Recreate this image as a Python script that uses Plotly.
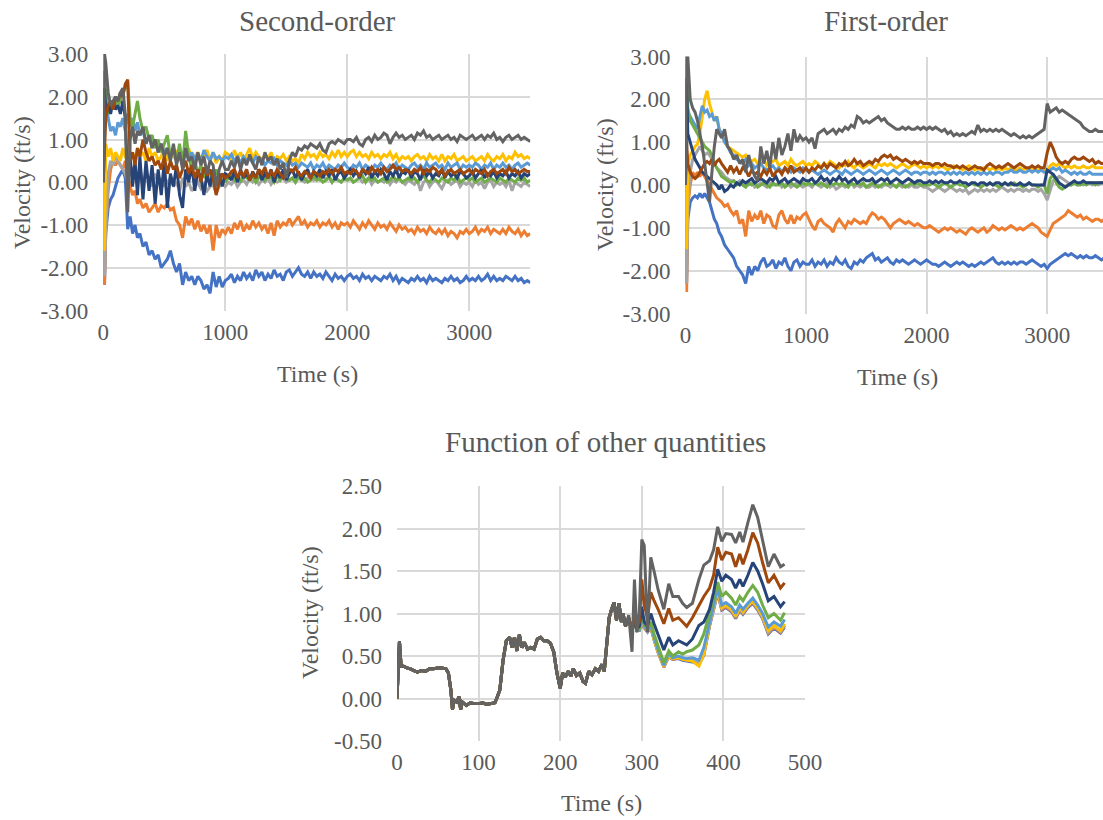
import plotly.graph_objects as go

# ---------------- time grids ----------------
T_TOP = [0, 10, 20] + list(range(40, 301, 20)) + list(range(325, 3501, 25))

SERIES_COLORS = ["#4472C4", "#ED7D31", "#A5A5A5", "#FFC000", "#5B9BD5",
                 "#70AD47", "#264478", "#9E480E", "#636363"]

# tick labels
Y_TOP_TICKS = [-3, -2, -1, 0, 1, 2, 3]
Y_TOP_TEXT = ["-3.00", "-2.00", "-1.00", "0.00", "1.00", "2.00", "3.00"]
Y_BOT_TICKS = [-0.5, 0, 0.5, 1, 1.5, 2, 2.5]
Y_BOT_TEXT = ["-0.50", "0.00", "0.50", "1.00", "1.50", "2.00", "2.50"]

# ---------------- Second-order (velocity, ft/s) ----------------
so_blue = [0, -2.4, -1.2, -0.6, -0.4, -0.3, -0.1, 0.1, 0.2, 0.3,
           0.1, -1.1, -0.8, -1.2, -1.0, -1.3, -1.2, -1.5, -1.4, -1.7,
           -1.6, -1.8, -1.7, -2.0, -1.9, -1.8, -1.6, -1.9, -2.1, -1.9,
           -2.4, -2.1, -2.3, -2.2, -2.4, -2.2, -2.3, -2.5, -2.4, -2.6,
           -2.1, -2.45, -2.2, -2.45, -2.3,
           -2.25, -2.15, -2.35, -2.2, -2.3, -2.1, -2.25, -2.15, -2.3, -2.05,
           -2.2, -2.1, -2.3, -2.15, -2.25, -2.05, -2.2, -2.15, -2.3, -2.1,
           -2.05, -2.2, -2.1, -2.0, -2.15, -2.2, -2.1, -2.25, -2.1, -2.2,
           -2.15, -2.25, -2.1, -2.2, -2.3, -2.15, -2.25, -2.2, -2.3, -2.2,
           -2.15, -2.25, -2.2, -2.3, -2.15, -2.25, -2.2, -2.3, -2.2, -2.25,
           -2.3, -2.2, -2.25, -2.15, -2.3, -2.2, -2.35, -2.25, -2.3, -2.35,
           -2.25, -2.3, -2.2, -2.3, -2.25, -2.35, -2.2, -2.3, -2.25, -2.3,
           -2.35, -2.25, -2.3, -2.2, -2.3, -2.25, -2.35, -2.3, -2.2, -2.3,
           -2.25, -2.3, -2.2, -2.3, -2.25, -2.15, -2.3, -2.2, -2.3, -2.25,
           -2.3, -2.2, -2.25, -2.3, -2.2, -2.3, -2.25, -2.35, -2.3, -2.35]
so_orange = [0, -2.4, -1.0, -0.2, 0.3, 0.5, 0.4, 0.5, 0.4, 0.3,
             0.5, 0.2, -0.1, -0.3, -0.2, -0.5, -0.4, -0.6, -0.5, -0.7,
             -0.6, -0.5, -0.7, -0.55, -0.6, -0.5, -0.65, -0.6, -0.9, -1.0,
             -1.3, -0.8, -1.0, -0.85, -1.1, -0.9, -1.15, -1.0, -1.2, -1.0,
             -1.6, -1.0, -1.3, -1.1, -1.2,
             -1.05, -1.2, -0.95, -1.1, -0.9, -1.15, -1.0, -1.1, -0.9, -1.05,
             -0.95, -1.1, -1.0, -1.2, -0.95, -1.25, -0.9, -1.05, -0.95, -1.0,
             -0.85, -1.0, -0.9, -0.8, -1.0, -0.9, -1.05, -0.95, -1.0, -0.9,
             -1.05, -0.95, -1.0, -0.9, -1.05, -0.95, -1.1, -0.95, -1.0, -0.95,
             -1.05, -0.9, -1.0, -1.1, -0.95, -1.05, -0.9, -1.0, -1.1, -0.95,
             -1.05, -1.0, -1.1, -0.95, -1.05, -1.15, -1.0, -1.1, -1.05, -1.15,
             -1.1, -1.2, -1.05, -1.15, -1.1, -1.2, -1.05, -1.15, -1.2, -1.1,
             -1.2, -1.1, -1.25, -1.15, -1.2, -1.3, -1.15, -1.2, -1.1, -1.2,
             -1.15, -1.05, -1.2, -1.1, -1.15, -1.05, -1.2, -1.1, -1.15, -1.2,
             -1.1, -1.2, -1.05, -1.15, -1.2, -1.1, -1.25, -1.15, -1.25, -1.2]
so_gray = [0, -2.2, -1.2, 0.2, 0.5, 0.4, 0.6, 0.5, 0.4, 0.3,
           0.2, 0.0, 0.4, 0.3, 0.2, 0.1, 0.3, 0.0, 0.2, 0.1,
           -0.1, 0.2, 0.0, 0.1, -0.1, 0.0, 0.1, -0.1, 0.0, -0.2,
           0.1, -0.1, 0.0, -0.2, -0.1, 0.0, -0.15, -0.05, -0.2, -0.1,
           -0.05, -0.25, -0.1, 0.0, -0.1,
           0.0, -0.05, 0.05, -0.1, 0.0, 0.05, -0.05, 0.1, 0.0, 0.05,
           -0.05, 0.05, 0.0, 0.1, -0.05, 0.05, 0.0, 0.05, 0.1, 0.0,
           0.05, 0.1, 0.0, 0.1, 0.05, 0.0, 0.1, 0.15, 0.05, 0.1,
           0.05, 0.15, 0.05, 0.1, 0.0, 0.1, 0.05, 0.0, 0.1, 0.05,
           0.1, 0.0, 0.05, 0.1, 0.0, 0.05, 0.1, -0.05, 0.05, 0.0,
           0.05, 0.0, 0.1, -0.05, 0.05, 0.0, 0.1, 0.0, -0.05, 0.05,
           0.0, -0.05, 0.05, -0.2, 0.0, 0.05, -0.1, 0.0, 0.05, -0.05,
           -0.15, 0.0, 0.05, -0.05, 0.0, 0.05, -0.1, 0.0, -0.05, 0.0,
           -0.1, 0.05, -0.05, 0.0, -0.15, 0.0, 0.05, -0.1, 0.0, -0.05,
           0.0, -0.1, 0.05, -0.2, 0.0, -0.05, -0.1, 0.0, -0.05, -0.1]
so_gold = [0, -1.6, 0.9, 0.6, 0.8, 0.5, 0.7, 0.6, 0.5, 0.8,
           0.6, 0.5, 0.6, 0.7, 0.5, 0.8, 0.6, 0.7, 0.5, 0.8,
           0.6, 0.7, 0.5, 0.6, 0.8, 0.5, 0.7, 0.6, 0.75, 0.5,
           0.7, 0.6, 0.8, 0.5, 0.6, 0.7, 0.5, 0.65, 0.75, 0.5,
           0.7, 0.45, 0.6, 0.5, 0.7,
           0.65, 0.5, 0.75, 0.55, 0.7, 0.5, 0.65, 0.8, 0.55, 0.7,
           0.6, 0.5, 0.65, 0.55, 0.7, 0.5, 0.6, 0.55, 0.65, 0.5,
           0.6, 0.5, 0.55, 0.45, 0.65, 0.55, 0.7, 0.6, 0.65, 0.55,
           0.7, 0.6, 0.65, 0.55, 0.7, 0.6, 0.75, 0.6, 0.7, 0.6,
           0.7, 0.75, 0.6, 0.7, 0.6, 0.65, 0.55, 0.7, 0.6, 0.65,
           0.55, 0.65, 0.6, 0.7, 0.55, 0.65, 0.5, 0.6, 0.55, 0.6,
           0.5, 0.6, 0.65, 0.55, 0.6, 0.5, 0.65, 0.55, 0.6, 0.5,
           0.65, 0.5, 0.6, 0.55, 0.65, 0.5, 0.55, 0.6, 0.5, 0.55,
           0.6, 0.5, 0.55, 0.6, 0.5, 0.65, 0.55, 0.5, 0.6, 0.55,
           0.65, 0.5, 0.6, 0.55, 0.7, 0.6, 0.65, 0.55, 0.6, 0.55]
so_lightblue = [0, 1.0, 2.0, 1.5, 1.2, 1.3, 1.1, 1.4, 1.3, 1.5,
                1.2, 1.6, 1.3, 1.5, 1.2, 1.4, 1.1, 1.2, 0.9, 1.1,
                0.8, 1.0, 0.7, 0.9, 0.7, 0.8, 0.6, 0.8, 0.5, 0.7,
                0.6, 0.8, 0.5, 0.7, 0.55, 0.65, 0.5, 0.75, 0.6, 0.5,
                0.7, 0.55, 0.6, 0.5, 0.6,
                0.55, 0.65, 0.5, 0.6, 0.45, 0.6, 0.5, 0.55, 0.45, 0.6,
                0.5, 0.55, 0.4, 0.5, 0.45, 0.55, 0.4, 0.5, 0.45, 0.4,
                0.5, 0.4, 0.45, 0.35, 0.45, 0.4, 0.35, 0.45, 0.3, 0.4,
                0.35, 0.45, 0.3, 0.4, 0.35, 0.3, 0.4, 0.35, 0.45, 0.35,
                0.3, 0.4, 0.35, 0.45, 0.3, 0.4, 0.35, 0.3, 0.4, 0.35,
                0.45, 0.35, 0.3, 0.4, 0.35, 0.45, 0.3, 0.4, 0.35, 0.3,
                0.4, 0.45, 0.35, 0.4, 0.3, 0.45, 0.35, 0.4, 0.45, 0.35,
                0.4, 0.3, 0.45, 0.35, 0.4, 0.45, 0.3, 0.4, 0.35, 0.4,
                0.35, 0.45, 0.4, 0.3, 0.4, 0.35, 0.45, 0.3, 0.4, 0.35,
                0.45, 0.35, 0.4, 0.3, 0.4, 0.45, 0.35, 0.4, 0.45, 0.4]
so_green = [0, 2.6, 2.2, 1.6, 1.9, 1.7, 2.0, 1.8, 1.9, 2.1,
            2.2, 2.35, 1.5, 1.3, 1.6, 1.9, 1.5, 1.2, 1.3, 1.0,
            1.1, 0.8, 1.0, 0.7, 0.9, 1.1, 0.6, 0.8, 0.5, 0.9,
            0.4, 1.2, 0.6, 0.3, 0.5, 0.2, 0.4, 0.1, 0.3, 0.2,
            0.0, 0.3, 0.1, 0.2, 0.0,
            0.1, 0.2, 0.05, 0.15, 0.0, 0.2, 0.1, 0.05, 0.15, 0.0,
            0.1, 0.2, 0.05, 0.15, 0.1, 0.0, 0.15, 0.05, 0.2, 0.1,
            0.05, 0.1, 0.0, 0.15, 0.05, 0.1, 0.0, 0.05, 0.15, 0.05,
            0.1, 0.0, 0.05, 0.15, 0.0, 0.1, 0.05, 0.0, 0.1, 0.05,
            0.1, 0.0, 0.05, 0.1, 0.15, 0.0, 0.1, 0.05, 0.1, 0.0,
            0.05, 0.1, 0.0, 0.05, 0.15, 0.05, 0.1, 0.0, 0.05, 0.1,
            0.05, 0.1, 0.0, 0.1, 0.15, 0.05, 0.0, 0.1, 0.05, 0.0,
            0.1, 0.05, 0.0, 0.1, 0.05, 0.15, 0.0, 0.05, 0.1, 0.05,
            0.1, 0.0, 0.05, 0.1, 0.0, 0.05, 0.1, 0.05, 0.0, 0.1,
            0.05, 0.0, 0.1, 0.05, 0.0, 0.1, 0.05, 0.1, 0.0, 0.05]
so_darkblue = [0, 2.2, 1.7, 1.8, 1.6, 1.9, 1.7, 1.8, 1.6, 1.9,
               1.5, 0.0, 0.6, -0.1, 0.5, -0.3, 0.6, -0.4, 0.5, -0.2,
               0.4, -0.5, 0.3, -0.3, 0.5, -0.6, 0.2, -0.1, 0.4, -0.3,
               -0.6, 0.3, 0.0, 0.4, -0.2, 0.3, 0.1, -0.3, 0.2, -0.1,
               0.3, 0.0, 0.2, -0.1, 0.2,
               0.15, 0.05, 0.25, 0.0, 0.3, 0.1, 0.2, 0.05, 0.25, 0.1,
               0.3, 0.05, 0.2, 0.1, 0.3, 0.0, 0.25, 0.1, 0.3, 0.05,
               0.2, 0.3, 0.1, 0.25, 0.05, 0.2, 0.3, 0.1, 0.25, 0.15,
               0.3, 0.1, 0.25, 0.15, 0.3, 0.05, 0.2, 0.25, 0.1, 0.2,
               0.3, 0.15, 0.25, 0.1, 0.3, 0.2, 0.35, 0.1, 0.25, 0.15,
               0.3, 0.2, 0.05, 0.25, 0.15, 0.3, 0.1, 0.25, 0.2, 0.3,
               0.1, 0.25, 0.2, 0.05, 0.3, 0.15, 0.25, 0.1, 0.2, 0.15,
               0.3, 0.1, 0.25, 0.15, 0.2, 0.1, 0.25, 0.2, 0.1, 0.15,
               0.25, 0.1, 0.2, 0.3, 0.1, 0.2, 0.15, 0.25, 0.1, 0.2,
               0.15, 0.25, 0.1, 0.2, 0.15, 0.25, 0.1, 0.2, 0.15, 0.2]
so_brown = [0, 1.0, 1.5, 1.8, 1.9, 1.7, 2.0, 1.9, 2.1, 2.0,
            2.3, 2.4, 0.5, 0.7, 0.4, 0.8, 0.6, 1.0, 0.7, 0.5,
            0.6, 0.4, 0.5, 0.3, 0.6, 0.2, 0.5, 0.3, 0.4, 0.1,
            0.3, 0.5, 0.2, 0.4, 0.1, 0.3, 0.0, 0.35, 0.15, 0.3,
            0.1, -0.3, 0.0, 0.2, 0.1,
            0.15, 0.25, 0.3, 0.1, 0.25, 0.15, 0.3, 0.05, 0.2, 0.1,
            0.3, 0.2, 0.35, 0.1, 0.25, 0.15, 0.3, 0.2, 0.1, 0.2,
            0.3, 0.25, 0.35, 0.2, 0.15, 0.25, 0.2, 0.1, 0.25, 0.2,
            0.15, 0.25, 0.2, 0.3, 0.2, 0.3, 0.25, 0.35, 0.2, 0.25,
            0.2, 0.3, 0.25, 0.15, 0.3, 0.25, 0.2, 0.35, 0.25, 0.3,
            0.2, 0.35, 0.25, 0.3, 0.4, 0.3, 0.35, 0.25, 0.3, 0.25,
            0.2, 0.3, 0.25, 0.35, 0.2, 0.3, 0.25, 0.35, 0.3, 0.2,
            0.3, 0.15, 0.25, 0.3, 0.2, 0.25, 0.3, 0.2, 0.25, 0.3,
            0.2, 0.3, 0.25, 0.2, 0.3, 0.15, 0.25, 0.3, 0.2, 0.25,
            0.3, 0.2, 0.35, 0.25, 0.3, 0.2, 0.25, 0.3, 0.25, 0.25]
so_darkgray = [0, 3.0, 2.8, 2.1, 1.8, 1.9, 2.0, 1.9, 2.1, 2.2,
               1.6, -0.7, 1.0, 1.3, 0.9, 1.2, 1.1, 1.3, 0.9, 1.1,
               0.8, 1.0, 0.7, 0.9, 0.6, 0.8, 0.5, 0.9, 0.4, 0.7,
               0.3, 0.8, 0.5, 0.6, 0.3, 0.7, 0.4, 0.6, 0.2, 0.5,
               0.4, -0.1, 0.3, 0.5, 0.3,
               0.3, 0.5, 0.35, 0.6, 0.3, 0.55, 0.4, 0.65, 0.45, 0.3,
               0.6, 0.4, 0.7, 0.5, 0.6, 0.4, 0.55, 0.3, 0.45, 0.1,
               0.5, 0.7, 0.6, 0.8, 0.75, 0.85, 0.8, 0.9, 0.85, 0.8,
               0.9, 0.75, 0.7, 0.9, 0.95, 0.9, 1.0, 0.95, 0.9, 1.0,
               1.0, 0.95, 1.05, 0.9, 0.85, 1.0, 1.05, 0.95, 1.1, 1.0,
               1.05, 1.15, 1.1, 0.9, 1.05, 1.15, 1.05, 1.1, 1.0, 1.05,
               1.1, 1.0, 1.15, 1.1, 1.2, 1.05, 1.1, 1.0, 1.05, 1.1,
               1.0, 1.05, 1.1, 1.0, 1.05, 0.95, 1.1, 1.05, 1.0, 1.05,
               1.1, 1.0, 1.05, 1.1, 1.0, 1.1, 1.05, 1.15, 1.0, 1.05,
               0.95, 1.05, 1.1, 1.0, 1.05, 1.1, 1.0, 1.05, 1.0, 0.95]

# ---------------- First-order (velocity, ft/s) ----------------
fo_blue = [0, -2.3, -0.8, -0.4, -0.3, -0.25, -0.3, -0.2, -0.3, -0.2,
           -0.3, -0.4, -0.6, -0.8, -0.9, -1.1, -1.2, -1.4, -1.5, -1.6,
           -1.7, -1.9, -2.0, -2.1, -2.3, -1.9, -2.1, -1.9, -2.0, -1.8,
           -1.7, -1.9, -1.85, -1.75, -1.95, -1.8, -1.85, -1.7, -1.9, -2.0,
           -1.8, -1.75, -1.9, -1.8, -1.85,
           -1.85, -1.75, -1.9, -1.8, -1.85, -1.75, -1.9, -1.8, -1.85, -1.7,
           -1.8, -1.85, -1.75, -1.9, -1.95, -1.8, -1.85, -1.75, -1.8, -1.7,
           -1.65, -1.6, -1.75, -1.7, -1.8, -1.75, -1.7, -1.8, -1.85, -1.75,
           -1.8, -1.75, -1.8, -1.85, -1.8, -1.75, -1.8, -1.85, -1.8, -1.75,
           -1.8, -1.85, -1.85, -1.9, -1.85, -1.8, -1.85, -1.9, -1.85, -1.8,
           -1.85, -1.8, -1.85, -1.9, -1.85, -1.9, -1.85, -1.8, -1.85, -1.8,
           -1.75, -1.7, -1.8, -1.85, -1.8, -1.85, -1.8, -1.85, -1.8, -1.85,
           -1.8, -1.8, -1.85, -1.8, -1.75, -1.8, -1.85, -1.9, -1.85, -1.95,
           -1.85, -1.8, -1.75, -1.7, -1.65, -1.6, -1.65, -1.6, -1.65, -1.7,
           -1.65, -1.7, -1.65, -1.7, -1.7, -1.65, -1.7, -1.75, -1.7, -1.7]
fo_orange = [0, -2.5, -0.5, 0.0, 0.3, 0.2, 0.3, 0.2, 0.3, 0.2,
             0.1, 0.0, -0.1, -0.2, -0.3, -0.35, -0.4, -0.5, -0.45, -0.6,
             -0.7, -0.6, -0.9, -0.8, -1.2, -0.6, -0.85, -0.7, -0.8, -0.6,
             -0.9, -0.7, -0.75, -0.95, -1.0, -0.7, -0.6, -0.8, -0.9, -0.7,
             -0.9, -0.75, -0.8, -0.7, -0.65,
             -0.8, -0.95, -1.05, -0.85, -0.8, -0.9, -0.95, -1.0, -1.1, -0.9,
             -0.8, -0.9, -1.0, -0.85, -0.9, -0.8, -0.85, -0.9, -0.85, -0.9,
             -0.75, -0.65, -0.7, -0.8, -0.75, -0.8, -0.9, -1.0, -0.9, -0.85,
             -0.8, -0.85, -0.9, -0.85, -0.9, -0.95, -0.9, -0.95, -1.0, -1.0,
             -0.95, -1.0, -1.05, -1.1, -1.05, -1.0, -1.05, -1.0, -1.05, -1.1,
             -1.05, -1.1, -1.15, -1.05, -1.0, -1.05, -1.1, -1.05, -1.0, -1.1,
             -1.05, -0.95, -1.0, -1.05, -1.0, -1.05, -1.0, -0.95, -1.0, -1.05,
             -1.0, -1.05, -1.0, -0.95, -0.9, -0.95, -1.0, -1.1, -1.15, -1.2,
             -1.05, -0.9, -0.85, -0.8, -0.75, -0.7, -0.6, -0.65, -0.7, -0.75,
             -0.7, -0.8, -0.75, -0.8, -0.85, -0.8, -0.8, -0.85, -0.8, -0.8]
fo_gray = [0, -2.3, -0.5, 0.3, 0.6, 0.7, 0.8, 0.9, 0.8, 0.7,
           0.75, 0.7, 0.6, 0.5, 0.4, 0.35, 0.3, 0.2, 0.15, 0.1,
           0.1, 0.05, 0.1, 0.0, 0.05, 0.0, 0.05, -0.05, 0.0, 0.05,
           0.0, -0.05, 0.05, 0.0, 0.0, 0.05, -0.05, 0.0, 0.05, -0.05,
           0.0, 0.05, 0.0, -0.05, 0.0,
           0.0, -0.05, 0.05, 0.0, -0.05, 0.0, 0.05, -0.05, 0.0, -0.1,
           -0.05, 0.0, -0.05, 0.0, 0.05, -0.05, 0.0, -0.05, 0.0, -0.05,
           -0.05, 0.0, -0.05, 0.0, -0.05, 0.0, 0.0, -0.05, 0.0, -0.05,
           0.0, -0.05, 0.0, -0.05, 0.0, -0.05, -0.05, 0.0, -0.05, -0.05,
           -0.1, -0.15, -0.1, -0.05, -0.1, -0.15, -0.1, -0.05, -0.1, -0.15,
           -0.1, -0.15, -0.1, -0.2, -0.15, -0.1, -0.15, -0.1, -0.15, -0.1,
           -0.15, -0.1, -0.15, -0.1, -0.05, -0.1, -0.15, -0.1, -0.15, -0.1,
           -0.1, -0.15, -0.1, -0.15, -0.1, -0.1, -0.15, -0.1, -0.2, -0.35,
           -0.1, 0.1, 0.15, 0.2, 0.15, 0.1, 0.05, 0.0, 0.05, 0.0,
           0.05, 0.0, 0.05, 0.05, 0.0, 0.05, 0.0, 0.05, 0.05, 0.05]
fo_gold = [0, -1.5, 0.5, 0.7, 0.8, 0.9, 0.95, 1.2, 1.6, 2.0,
           2.2, 1.9, 1.7, 1.5, 1.6, 1.3, 1.2, 1.0, 0.9, 0.85,
           0.8, 0.75, 0.7, 0.65, 0.7, 0.6, 0.55, 0.6, 0.5, 0.55,
           0.6, 0.45, 0.5, 0.55, 0.6, 0.45, 0.5, 0.55, 0.45, 0.6,
           0.5, 0.45, 0.5, 0.55, 0.45,
           0.5, 0.45, 0.55, 0.5, 0.4, 0.5, 0.45, 0.55, 0.5, 0.45,
           0.4, 0.5, 0.45, 0.55, 0.45, 0.4, 0.5, 0.45, 0.4, 0.45,
           0.5, 0.45, 0.4, 0.5, 0.45, 0.5, 0.45, 0.5, 0.45, 0.4,
           0.45, 0.5, 0.45, 0.4, 0.45, 0.5, 0.45, 0.4, 0.45, 0.4,
           0.45, 0.4, 0.45, 0.4, 0.45, 0.4, 0.35, 0.4, 0.45, 0.4,
           0.4, 0.35, 0.4, 0.45, 0.4, 0.35, 0.4, 0.35, 0.4, 0.4,
           0.35, 0.4, 0.35, 0.4, 0.35, 0.4, 0.35, 0.4, 0.35, 0.35,
           0.4, 0.35, 0.4, 0.35, 0.4, 0.35, 0.35, 0.4, 0.35, 0.3,
           0.45, 0.5, 0.45, 0.5, 0.45, 0.4, 0.45, 0.4, 0.45, 0.4,
           0.4, 0.45, 0.4, 0.4, 0.45, 0.4, 0.4, 0.4, 0.4, 0.4]
fo_lightblue = [0, 1.0, 1.7, 1.6, 1.5, 1.4, 1.3, 1.6, 1.85, 1.7,
                1.75, 1.6, 1.65, 1.5, 1.6, 1.3, 1.2, 1.0, 0.9, 0.75,
                0.7, 0.6, 0.55, 0.5, 0.6, 0.45, 0.5, 0.4, 0.45, 0.5,
                0.4, 0.35, 0.4, 0.45, 0.35, 0.4, 0.3, 0.4, 0.35, 0.3,
                0.4, 0.35, 0.3, 0.4, 0.35,
                0.3, 0.35, 0.3, 0.25, 0.3, 0.35, 0.3, 0.25, 0.3, 0.35,
                0.3, 0.25, 0.35, 0.3, 0.25, 0.3, 0.35, 0.3, 0.25, 0.3,
                0.35, 0.3, 0.25, 0.3, 0.35, 0.3, 0.25, 0.3, 0.35, 0.3,
                0.25, 0.3, 0.35, 0.3, 0.25, 0.3, 0.3, 0.25, 0.3, 0.3,
                0.25, 0.3, 0.25, 0.3, 0.3, 0.25, 0.3, 0.25, 0.3, 0.25,
                0.3, 0.25, 0.3, 0.25, 0.3, 0.25, 0.3, 0.25, 0.3, 0.25,
                0.3, 0.25, 0.3, 0.3, 0.25, 0.3, 0.3, 0.35, 0.3, 0.3,
                0.35, 0.3, 0.3, 0.35, 0.3, 0.35, 0.3, 0.35, 0.3, 0.3,
                0.35, 0.4, 0.35, 0.4, 0.3, 0.35, 0.3, 0.25, 0.3, 0.25,
                0.3, 0.25, 0.25, 0.3, 0.25, 0.25, 0.25, 0.25, 0.25, 0.25]
fo_green = [0, 3.0, 1.8, 1.5, 1.4, 1.3, 1.2, 1.1, 1.0, 0.9,
            0.85, 0.8, 0.7, 0.5, 0.4, 0.3, 0.2, 0.15, 0.1, 0.05,
            0.1, 0.0, 0.05, 0.0, -0.05, 0.05, 0.0, 0.05, -0.05, 0.0,
            0.05, 0.0, -0.05, 0.05, 0.0, 0.0, 0.05, -0.05, 0.0, 0.05,
            0.0, -0.05, 0.0, 0.05, 0.0,
            0.05, 0.0, 0.05, 0.0, 0.05, 0.0, -0.05, 0.05, 0.0, 0.05,
            0.0, 0.05, 0.0, -0.05, 0.05, 0.0, 0.05, 0.0, 0.05, -0.05,
            0.0, 0.05, 0.0, -0.05, 0.0, 0.05, 0.0, 0.05, 0.0, -0.05,
            0.05, 0.0, -0.05, 0.0, 0.05, 0.0, 0.05, 0.0, 0.0, 0.0,
            0.0, 0.05, 0.0, -0.05, 0.0, 0.05, 0.0, -0.05, 0.0, 0.05,
            0.0, 0.0, -0.05, 0.0, 0.05, 0.0, 0.0, -0.05, 0.0, 0.0,
            0.05, 0.0, 0.0, -0.05, 0.0, 0.05, 0.0, 0.0, 0.05, 0.0,
            0.0, -0.05, 0.0, 0.05, 0.0, 0.0, -0.05, 0.0, 0.0, -0.2,
            0.15, 0.25, 0.05, -0.05, -0.1, -0.05, 0.0, 0.0, 0.05, 0.0,
            0.0, 0.05, 0.0, 0.05, 0.05, 0.0, 0.05, 0.05, 0.05, 0.05]
fo_darkblue = [0, 2.5, 1.2, 1.0, 0.8, 0.6, 0.5, 0.4, 0.3, 0.25,
               0.2, 0.15, 0.1, 0.05, 0.0, -0.1, 0.0, -0.15, -0.1, 0.0,
               -0.05, 0.05, 0.0, 0.1, 0.05, 0.1, 0.15, 0.05, 0.1, 0.15,
               0.1, 0.05, 0.15, 0.1, 0.2, 0.05, 0.1, 0.15, 0.05, 0.1,
               0.15, 0.1, 0.05, 0.15, 0.1,
               0.1, 0.15, 0.05, 0.1, 0.2, 0.1, 0.15, 0.05, 0.15, 0.1,
               0.2, 0.1, 0.15, 0.05, 0.1, 0.15, 0.05, 0.1, 0.15, 0.1,
               0.1, 0.15, 0.05, 0.1, 0.15, 0.1, 0.15, 0.05, 0.1, 0.15,
               0.1, 0.05, 0.1, 0.15, 0.1, 0.05, 0.1, 0.1, 0.05, 0.05,
               0.1, 0.05, 0.1, 0.05, 0.1, 0.05, 0.05, 0.1, 0.05, 0.05,
               0.1, 0.05, 0.05, 0.0, 0.05, 0.05, 0.0, 0.05, 0.05, 0.0,
               0.05, 0.0, 0.05, 0.05, 0.0, 0.05, 0.0, 0.05, 0.0, 0.0,
               0.05, 0.0, 0.0, 0.05, 0.0, 0.0, 0.0, 0.0, 0.0, 0.35,
               0.3, 0.25, 0.15, 0.05, 0.0, -0.05, 0.0, 0.05, 0.1, 0.05,
               0.05, 0.1, 0.05, 0.05, 0.05, 0.05, 0.05, 0.05, 0.05, 0.05]
fo_brown = [0, 1.0, 0.5, 0.3, 0.2, 0.15, 0.2, 0.3, 0.4, 0.5,
            0.55, 0.5, 0.6, 0.45, 0.55, 0.6, 0.5, 0.4, 0.3, 0.45,
            0.3, 0.4, 0.25, 0.4, 0.35, 0.2, 0.35, 0.25, 0.3, 0.2,
            0.35, 0.25, 0.4, 0.2, 0.3, 0.35, 0.25, 0.4, 0.3, 0.45,
            0.3, 0.35, 0.4, 0.3, 0.4,
            0.3, 0.4, 0.35, 0.45, 0.4, 0.5, 0.4, 0.5, 0.45, 0.4,
            0.5, 0.45, 0.55, 0.45, 0.5, 0.6, 0.5, 0.55, 0.45, 0.5,
            0.55, 0.5, 0.6, 0.55, 0.65, 0.7, 0.65, 0.7, 0.6, 0.65,
            0.6, 0.55, 0.6, 0.55, 0.5, 0.55, 0.5, 0.55, 0.5, 0.5,
            0.5, 0.45, 0.5, 0.5, 0.45, 0.5, 0.45, 0.45, 0.4, 0.45,
            0.4, 0.45, 0.4, 0.35, 0.4, 0.45, 0.4, 0.4, 0.35, 0.45,
            0.5, 0.45, 0.4, 0.45, 0.4, 0.45, 0.5, 0.45, 0.4, 0.45,
            0.5, 0.45, 0.4, 0.4, 0.45, 0.4, 0.45, 0.4, 0.4, 0.75,
            1.0, 0.85, 0.65, 0.55, 0.5, 0.55, 0.5, 0.6, 0.65, 0.6,
            0.6, 0.65, 0.6, 0.55, 0.6, 0.5, 0.55, 0.5, 0.5, 0.5]
fo_darkgray = [0, 3.0, 3.0, 2.0, 1.8, 1.7, 1.5, 1.2, 0.9, 0.5,
               0.0, -0.4, 0.3, 0.9, 1.3, 1.2, 1.1, 1.3, 0.9, 0.8,
               0.6, 0.7, 0.5, 0.6, 0.3, 0.7, 0.4, 0.2, 0.1, 0.9,
               0.5, 0.8, 0.4, 1.0, 0.6, 1.1, 0.7, 0.9, 1.2, 0.8,
               1.3, 1.0, 1.15, 1.05, 1.1,
               1.0, 1.1, 0.85, 1.2, 1.25, 1.3, 1.2, 1.25, 1.3, 1.2,
               1.3, 1.25, 1.35, 1.3, 1.4, 1.35, 1.6, 1.55, 1.45, 1.5,
               1.45, 1.5, 1.55, 1.6, 1.5, 1.55, 1.45, 1.4, 1.35, 1.3,
               1.3, 1.35, 1.3, 1.35, 1.3, 1.3, 1.35, 1.3, 1.35, 1.3,
               1.35, 1.3, 1.35, 1.3, 1.25, 1.3, 1.2, 1.25, 1.15, 1.2,
               1.15, 1.2, 1.15, 1.2, 1.25, 1.2, 1.4, 1.25, 1.3, 1.25,
               1.3, 1.25, 1.3, 1.25, 1.3, 1.25, 1.2, 1.15, 1.2, 1.15,
               1.1, 1.15, 1.1, 1.15, 1.1, 1.15, 1.2, 1.25, 1.3, 1.9,
               1.7, 1.75, 1.8, 1.7, 1.75, 1.7, 1.65, 1.6, 1.55, 1.5,
               1.45, 1.35, 1.3, 1.25, 1.25, 1.3, 1.25, 1.25, 1.25, 1.25]

# ---------------- Function of other quantities ----------------
# shared early portion (all runs coincide)
T_BASE = [0, 2, 3, 5, 8, 12, 16, 20, 25, 30, 35, 40, 45, 50, 55, 60, 63, 66, 68, 70,
          73, 76, 78, 80, 85, 90, 95, 100, 105, 110, 115, 120, 123, 126, 130, 134, 138, 141, 144, 147,
          150, 153, 156, 160, 164, 168, 172, 176, 180, 184, 188, 192, 196, 200, 203, 206, 210, 213, 216, 220,
          224, 228, 231, 235, 239, 243, 247, 251, 254, 257, 260, 263, 266, 269, 272, 275, 277]
V_BASE = [0.0, 0.5, 0.67, 0.38, 0.38, 0.36, 0.35, 0.33, 0.31, 0.33, 0.32, 0.35, 0.35, 0.36, 0.36, 0.35, 0.3, 0.1, -0.13, -0.02,
          -0.04, 0.02, -0.13, -0.04, -0.08, -0.05, -0.06, -0.06, -0.05, -0.07, -0.06, -0.05, 0.02, 0.1, 0.45, 0.68, 0.72, 0.6, 0.72, 0.56,
          0.75, 0.6, 0.66, 0.58, 0.6, 0.58, 0.7, 0.72, 0.68, 0.68, 0.65, 0.55, 0.3, 0.12, 0.3, 0.25, 0.32, 0.26, 0.35, 0.27,
          0.3, 0.2, 0.18, 0.32, 0.28, 0.35, 0.32, 0.4, 0.32, 0.6, 0.95, 1.05, 1.13, 0.92, 1.12, 0.9, 1.0]

T_LATE = [280, 284, 288, 291, 294, 297, 300, 303, 307, 311,
          315, 320, 327, 333, 338, 345, 350, 355, 362, 370,
          376, 383, 388, 393, 398, 403, 410, 415, 420, 424,
          430, 436, 442, 448, 455, 462, 470, 475]
fq_blue = [0.85, 0.95, 0.8, 0.9, 0.8, 0.8, 0.94, 0.83, 0.78, 0.84,
           0.69, 0.54, 0.37, 0.49, 0.46, 0.47, 0.45, 0.44, 0.43, 0.4,
           0.51, 0.85, 1.05, 1.24, 1.04, 1.07, 1.02, 0.94, 1.04, 0.99,
           1.07, 1.12, 1.04, 0.94, 0.76, 0.83, 0.77, 0.84]
fq_orange = [0.85, 0.95, 0.8, 0.9, 0.8, 0.8, 0.95, 0.83, 0.79, 0.84,
             0.7, 0.54, 0.37, 0.5, 0.46, 0.48, 0.46, 0.45, 0.44, 0.41,
             0.52, 0.86, 1.06, 1.25, 1.05, 1.08, 1.03, 0.95, 1.05, 1.0,
             1.08, 1.13, 1.05, 0.95, 0.77, 0.84, 0.78, 0.86]
fq_gray = [0.85, 0.95, 0.8, 0.9, 0.8, 0.8, 0.95, 0.84, 0.79, 0.85,
           0.7, 0.55, 0.38, 0.5, 0.47, 0.49, 0.47, 0.46, 0.45, 0.41,
           0.53, 0.87, 1.07, 1.26, 1.06, 1.09, 1.04, 0.96, 1.06, 1.01,
           1.09, 1.14, 1.06, 0.96, 0.78, 0.85, 0.79, 0.86]
fq_gold = [0.85, 0.95, 0.8, 0.9, 0.8, 0.8, 0.96, 0.84, 0.8, 0.85,
           0.7, 0.55, 0.38, 0.5, 0.47, 0.48, 0.46, 0.45, 0.44, 0.38,
           0.52, 0.88, 1.08, 1.27, 1.07, 1.1, 1.05, 0.97, 1.07, 1.02,
           1.1, 1.15, 1.07, 0.97, 0.8, 0.86, 0.8, 0.88]
fq_lightblue = [0.85, 0.95, 0.8, 0.9, 0.8, 0.8, 0.97, 0.85, 0.8, 0.86,
                0.72, 0.57, 0.39, 0.53, 0.48, 0.5, 0.48, 0.47, 0.48, 0.45,
                0.6, 0.9, 1.1, 1.3, 1.1, 1.13, 1.08, 1.0, 1.1, 1.05,
                1.12, 1.18, 1.1, 1.0, 0.84, 0.9, 0.85, 0.93]
fq_green = [0.85, 0.95, 0.8, 0.9, 0.8, 0.82, 1.0, 0.88, 0.82, 0.9,
            0.76, 0.62, 0.42, 0.56, 0.5, 0.55, 0.52, 0.55, 0.57, 0.63,
            0.76, 1.0, 1.2, 1.37, 1.2, 1.25, 1.18, 1.1, 1.2, 1.15,
            1.25, 1.33, 1.25, 1.1, 0.95, 1.0, 0.92, 1.01]
fq_darkblue = [0.85, 0.95, 0.8, 0.92, 0.82, 0.85, 1.08, 0.9, 0.85, 1.0,
               0.88, 0.75, 0.57, 0.72, 0.63, 0.68, 0.65, 0.63, 0.7, 0.86,
               0.9, 1.05, 1.25, 1.52, 1.38, 1.45, 1.4, 1.3, 1.4, 1.32,
               1.45, 1.6, 1.5, 1.35, 1.15, 1.2, 1.08, 1.14]
fq_brown = [0.85, 0.95, 0.8, 0.95, 0.85, 0.9, 1.4, 1.1, 0.95, 1.25,
            1.15, 1.05, 0.88, 1.06, 0.92, 0.95, 0.9, 0.85, 0.95, 1.1,
            1.2, 1.3, 1.45, 1.78, 1.63, 1.72, 1.7, 1.55, 1.7, 1.58,
            1.75, 1.95, 1.83, 1.6, 1.36, 1.45, 1.3, 1.36]
fq_darkgray = [0.85, 0.98, 0.55, 1.4, 0.78, 1.0, 1.87, 1.8, 0.78, 1.66,
               1.5, 1.28, 1.05, 1.35, 1.2, 1.2, 1.12, 1.07, 1.12, 1.4,
               1.57, 1.62, 1.75, 2.02, 1.85, 1.94, 1.93, 1.83, 1.96, 1.84,
               2.07, 2.28, 2.13, 1.86, 1.55, 1.7, 1.55, 1.58]

SECOND_ORDER = [so_blue, so_orange, so_gray, so_gold, so_lightblue,
                so_green, so_darkblue, so_brown, so_darkgray]
FIRST_ORDER = [fo_blue, fo_orange, fo_gray, fo_gold, fo_lightblue,
               fo_green, fo_darkblue, fo_brown, fo_darkgray]
OTHER_LATE = [fq_blue, fq_orange, fq_gray, fq_gold, fq_lightblue,
              fq_green, fq_darkblue, fq_brown, fq_darkgray]

# ---------------- figure ----------------
W, H = 1103, 820
FONT = "Liberation Serif"
TXT = "#595959"
GRID = "#D9D9D9"
LW = 3

fig = go.Figure()

for vals, col in zip(SECOND_ORDER, SERIES_COLORS):
    fig.add_trace(go.Scatter(x=T_TOP, y=vals, mode="lines", xaxis="x", yaxis="y",
                             line=dict(color=col, width=LW), showlegend=False, hoverinfo="skip"))
for vals, col in zip(FIRST_ORDER, SERIES_COLORS):
    fig.add_trace(go.Scatter(x=T_TOP, y=vals, mode="lines", xaxis="x2", yaxis="y2",
                             line=dict(color=col, width=LW), showlegend=False, hoverinfo="skip"))
for vals, col in zip(OTHER_LATE, SERIES_COLORS):
    fig.add_trace(go.Scatter(x=T_BASE + T_LATE, y=V_BASE + vals, mode="lines", xaxis="x3", yaxis="y3",
                             line=dict(color=col, width=LW), showlegend=False, hoverinfo="skip"))


def px_x(p):
    return p / W


def px_y(p):
    return 1 - p / H


tick_font = dict(family=FONT, size=23, color=TXT)


def xaxis_cfg(x0, x1, rng, dtick, anchor):
    return dict(domain=[px_x(x0), px_x(x1)], range=rng, dtick=dtick, tick0=0,
                showgrid=True, gridcolor=GRID, gridwidth=2, zeroline=False,
                showline=False, ticks="", tickfont=tick_font, anchor=anchor,
                ticklabelstandoff=5, automargin=False, fixedrange=True)


def yaxis_cfg(y0, y1, rng, tickvals, ticktext, anchor):
    return dict(domain=[px_y(y1), px_y(y0)], range=rng, tickmode="array",
                tickvals=tickvals, ticktext=ticktext, showgrid=True,
                gridcolor=GRID, gridwidth=2, zeroline=False, showline=False,
                ticks="", tickfont=tick_font, anchor=anchor,
                ticklabelstandoff=14, automargin=False, fixedrange=True)


fig.update_layout(
    template="none",
    width=W, height=H,
    margin=dict(l=0, r=0, t=0, b=0, pad=0, autoexpand=False),
    paper_bgcolor="white", plot_bgcolor="white",
    font=dict(family=FONT, color=TXT),
    xaxis=xaxis_cfg(103.3, 530.3, [0, 3500], 1000, "y"),
    yaxis=yaxis_cfg(54, 310.5, [-3, 3], Y_TOP_TICKS, Y_TOP_TEXT, "x"),
    xaxis2=xaxis_cfg(685.4, 1103, [0, 3463], 1000, "y2"),
    yaxis2=yaxis_cfg(56.5, 313.5, [-3, 3], Y_TOP_TICKS, Y_TOP_TEXT, "x2"),
    xaxis3=xaxis_cfg(397, 805, [0, 500], 100, "y3"),
    yaxis3=yaxis_cfg(486, 741, [-0.5, 2.5], Y_BOT_TICKS, Y_BOT_TEXT, "x3"),
)

title_font = dict(family=FONT, size=29, color=TXT)
axis_font = dict(family=FONT, size=24, color=TXT)
labels = [
    ("Second-order", 317, 21, 0, title_font),
    ("First-order", 886, 21, 0, title_font),
    ("Function of other quantities", 605, 442, 0, title_font),
    ("Time (s)", 317, 374, 0, axis_font),
    ("Time (s)", 897, 377, 0, axis_font),
    ("Time (s)", 601, 803, 0, axis_font),
    ("Velocity (ft/s)", 22, 183, -90, axis_font),
    ("Velocity (ft/s)", 605, 185, -90, axis_font),
    ("Velocity (ft/s)", 310, 613, -90, axis_font),
]
for text, x, y, ang, fnt in labels:
    fig.add_annotation(text=text, x=px_x(x), y=px_y(y), xref="paper", yref="paper",
                       xanchor="center", yanchor="middle", textangle=ang,
                       showarrow=False, font=fnt)

fig.write_html("out.html")
